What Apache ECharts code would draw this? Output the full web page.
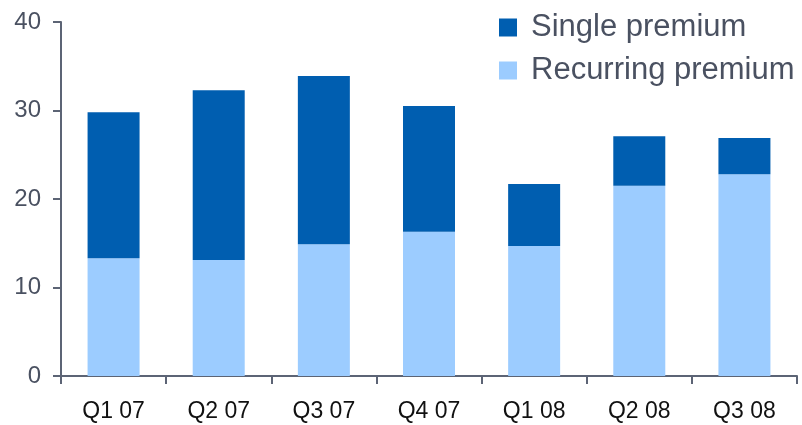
<!DOCTYPE html>
<html>
<head>
<meta charset="utf-8">
<script src="https://cdn.jsdelivr.net/npm/echarts@6/dist/echarts.min.js"></script>
<style>
  html, body { margin: 0; padding: 0; background: #fff; }
  #chart { width: 802px; height: 425px; }
</style>
</head>
<body>
<div id="chart"></div>
<script>
// quarters on the x axis
const quarters = ['Q1 07', 'Q2 07', 'Q3 07', 'Q4 07', 'Q1 08', 'Q2 08', 'Q3 08']

// stacked values
const recurringPremium = [13.3, 13.1, 14.9, 16.3, 14.7, 21.5, 22.8]
const singlePremium = [16.5, 19.2, 19.0, 14.2, 7.0, 5.6, 4.1]

const axisColor = '#5c6475'
const labelGrey = '#4a5161'

const chart = echarts.init(document.getElementById('chart'))

chart.setOption({
  animation: false,
  textStyle: { fontFamily: 'Liberation Sans, Arial, sans-serif' },
  grid: { left: 61, right: 5, top: 22, bottom: 49 },
  legend: {
    orient: 'vertical',
    left: 494,
    top: 7,
    itemWidth: 18,
    itemHeight: 18,
    itemGap: 12,
    icon: 'rect',
    textStyle: { fontSize: 31, color: labelGrey, padding: [0, 0, 0, 9] },
    data: ['Single premium', 'Recurring premium']
  },
  xAxis: {
    type: 'category',
    data: quarters,
    axisLine: { lineStyle: { color: axisColor, width: 2 } },
    axisTick: { show: true, length: 8, lineStyle: { color: axisColor, width: 2 } },
    axisLabel: { fontSize: 23, color: '#111', margin: 24 }
  },
  yAxis: {
    type: 'value',
    min: 0,
    max: 40,
    interval: 10,
    splitLine: { show: false },
    axisLine: { show: true, lineStyle: { color: axisColor, width: 2 } },
    axisTick: { show: true, length: 8, lineStyle: { color: axisColor, width: 2 } },
    axisLabel: { fontSize: 24, color: labelGrey, margin: 20 }
  },
  series: [
    {
      name: 'Recurring premium',
      type: 'bar',
      stack: 'total',
      barWidth: 52,
      itemStyle: { color: '#9cccff' },
      data: recurringPremium
    },
    {
      name: 'Single premium',
      type: 'bar',
      stack: 'total',
      barWidth: 52,
      itemStyle: { color: '#005eb0' },
      data: singlePremium
    }
  ]
})
</script>
</body>
</html>
